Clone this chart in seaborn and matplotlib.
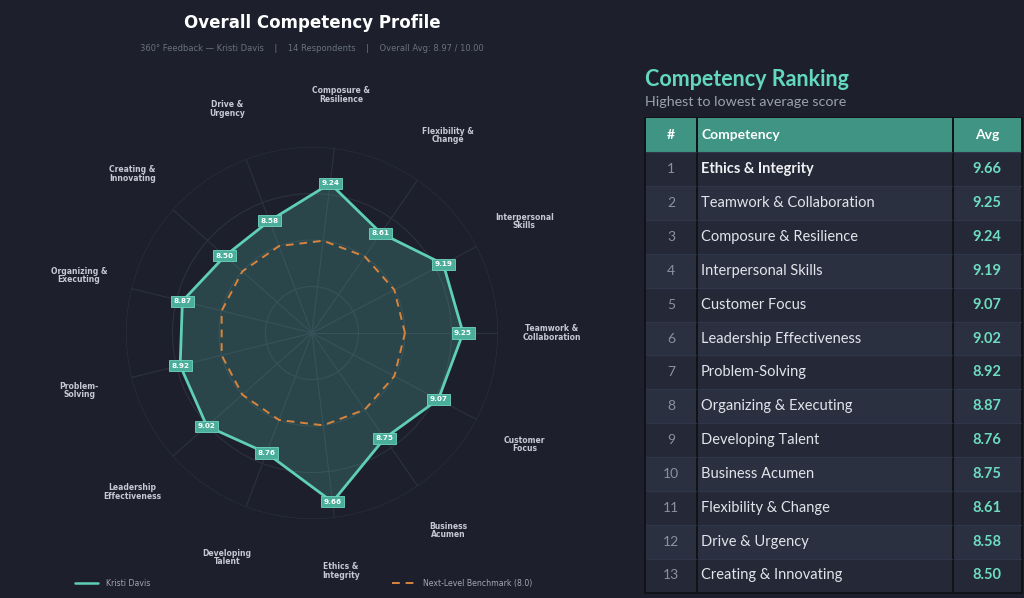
import numpy as np
import pandas as pd
import seaborn as sns
import matplotlib.pyplot as plt
from matplotlib.patches import Rectangle
from matplotlib.lines import Line2D

# --------------------------- data ----------------------------
# competencies in the order they go round the radar (counter-clockwise from east)
competencies = [
    "Teamwork & Collaboration", "Interpersonal Skills", "Flexibility & Change",
    "Composure & Resilience", "Drive & Urgency", "Creating & Innovating",
    "Organizing & Executing", "Problem-Solving", "Leadership Effectiveness",
    "Developing Talent", "Ethics & Integrity", "Business Acumen", "Customer Focus",
]
radar_labels = [
    "Teamwork &\nCollaboration", "Interpersonal\nSkills", "Flexibility &\nChange",
    "Composure &\nResilience", "Drive &\nUrgency", "Creating &\nInnovating",
    "Organizing &\nExecuting", "Problem-\nSolving", "Leadership\nEffectiveness",
    "Developing\nTalent", "Ethics &\nIntegrity", "Business\nAcumen", "Customer\nFocus",
]
scores = [9.25, 9.19, 8.61, 9.24, 8.58, 8.50, 8.87, 8.92, 9.02, 8.76, 9.66, 8.75, 9.07]
benchmark = 8.0
person = "Kristi Davis"
respondents = 14
overall_avg = 8.97

BG = "#1d202c"
TEAL = "#5fcfb6"
TEAL_BOX = "#4aae9b"
ORANGE = "#d9843c"

sns.set_theme(style="dark", rc={"figure.facecolor": BG, "axes.facecolor": BG,
                                "savefig.facecolor": BG, "text.color": "white"})
plt.rcParams["font.family"] = ["DejaVu Sans"]

fig = plt.figure(figsize=(10.24, 5.98), dpi=100)

# --------------------------- radar ----------------------------
n = len(competencies)
angles = np.linspace(0, 2 * np.pi, n, endpoint=False)
df = pd.DataFrame({"angle": np.append(angles, angles[0]),
                   "score": scores + scores[:1],
                   "bench": [benchmark] * (n + 1)})

ax = fig.add_axes([0.123, 0.1321, 0.3633, 0.622], projection="polar")
ax.set_facecolor(BG)
ax.set_ylim(6, 10)
ax.set_xticks(angles)
ax.set_xticklabels([])
ax.set_yticks([7, 8, 9, 10])
ax.set_yticklabels([])
ax.grid(color="#2c3140", linewidth=0.8)
ax.spines["polar"].set_visible(False)

ax.fill(df["angle"], df["score"], color=TEAL, alpha=0.22, zorder=2)
sns.lineplot(data=df, x="angle", y="score", sort=False, estimator=None,
             color=TEAL, linewidth=2, ax=ax, zorder=3)
sns.lineplot(data=df, x="angle", y="bench", sort=False, estimator=None,
             color=ORANGE, linewidth=1.4, ax=ax, zorder=3)
ax.lines[-1].set_dashes([4, 3])
ax.set_xlabel("")
ax.set_ylabel("")

for a, s in zip(angles, scores):
    ax.text(a, s, f"{s:.2f}", ha="center", va="center", fontsize=5.2,
            fontweight="bold", color="white", zorder=5,
            bbox=dict(boxstyle="square,pad=0.35", fc=TEAL_BOX, ec="#6fd6c0", lw=0.6))

for a, lab in zip(angles, radar_labels):
    ax.text(a, 11.16, lab, ha="center", va="center", fontsize=5.5,
            fontweight="bold", color="#c6c9d3", linespacing=0.95, clip_on=False)

fig.text(0.305, 0.962, "Overall Competency Profile", ha="center", va="center",
         fontsize=12, fontweight="bold", color="white")
fig.text(0.305, 0.919,
         f"360° Feedback — {person}    |    {respondents} Respondents    |    "
         f"Overall Avg: {overall_avg:.2f} / 10.00",
         ha="center", va="center", fontsize=6, color="#6a7080")

handles = [Line2D([], [], color=TEAL, lw=1.8),
           Line2D([], [], color=ORANGE, lw=1.4, dashes=[4, 3])]
fig.legend(handles, [person, f"Next-Level Benchmark ({benchmark:.1f})"],
           loc="center", bbox_to_anchor=(0.0698, 0.01, 0.4533, 0.03), mode="expand",
           ncol=2, frameon=False, fontsize=5.6, labelcolor="#a3a7b3",
           handlelength=3.0, handletextpad=1.0, borderaxespad=0)

# --------------------------- ranking table ----------------------------
rank = pd.DataFrame({"competency": competencies, "score": scores})
rank = rank.sort_values("score", ascending=False).reset_index(drop=True)

tf = ["Lato", "DejaVu Sans"]
fig.text(645 / 1024, 1 - 80 / 598, "Competency Ranking", ha="left", va="center",
         fontsize=15.5, fontweight="bold", color="#62d9be", family=tf)
fig.text(645 / 1024, 1 - 102 / 598, "Highest to lowest average score", ha="left",
         va="center", fontsize=10.3, color="#9ca1ae", family=tf)

tax = fig.add_axes([644 / 1024, 1 - 594 / 598, 379 / 1024, 477 / 598])
tax.set_xlim(644, 1023)
tax.set_ylim(594, 117)
tax.axis("off")
tax.add_patch(Rectangle((644, 117), 379, 477, fc="#111319", ec="none"))

row_h = 33.85
top = 118.5
cols = [(646, 696), (697.5, 952), (953.5, 1021)]
for x0, x1 in cols:
    tax.add_patch(Rectangle((x0, top), x1 - x0, row_h, fc="#3f9484", ec="none"))
tax.text(671, top + row_h / 2, "#", ha="center", va="center", fontsize=10,
         fontweight="bold", color="white", family=tf)
tax.text(701, top + row_h / 2, "Competency", ha="left", va="center", fontsize=10,
         fontweight="bold", color="white", family=tf)
tax.text(987, top + row_h / 2, "Avg", ha="center", va="center", fontsize=10,
         fontweight="bold", color="white", family=tf)

for i, row in rank.iterrows():
    y0 = top + row_h * (i + 1)
    fc = "#252937" if i % 2 == 0 else "#2b3040"
    for x0, x1 in cols:
        tax.add_patch(Rectangle((x0, y0), x1 - x0, row_h, fc=fc, ec="none"))
        tax.plot([x0, x1], [y0, y0], color="#30364a", lw=0.8)
    yc = y0 + row_h / 2
    tax.text(671, yc, str(i + 1), ha="center", va="center", fontsize=10,
             color="#8b91a0", family=tf)
    tax.text(701, yc, row["competency"], ha="left", va="center", fontsize=10.5,
             color="#f0f1f5" if i == 0 else "#e2e4ea",
             fontweight="bold" if i == 0 else "normal", family=tf)
    tax.text(987, yc, f"{row['score']:.2f}", ha="center", va="center", fontsize=10.5,
             fontweight="bold", color="#6ddcc0", family=tf)

fig.savefig("out.png", dpi=100, facecolor=BG)
